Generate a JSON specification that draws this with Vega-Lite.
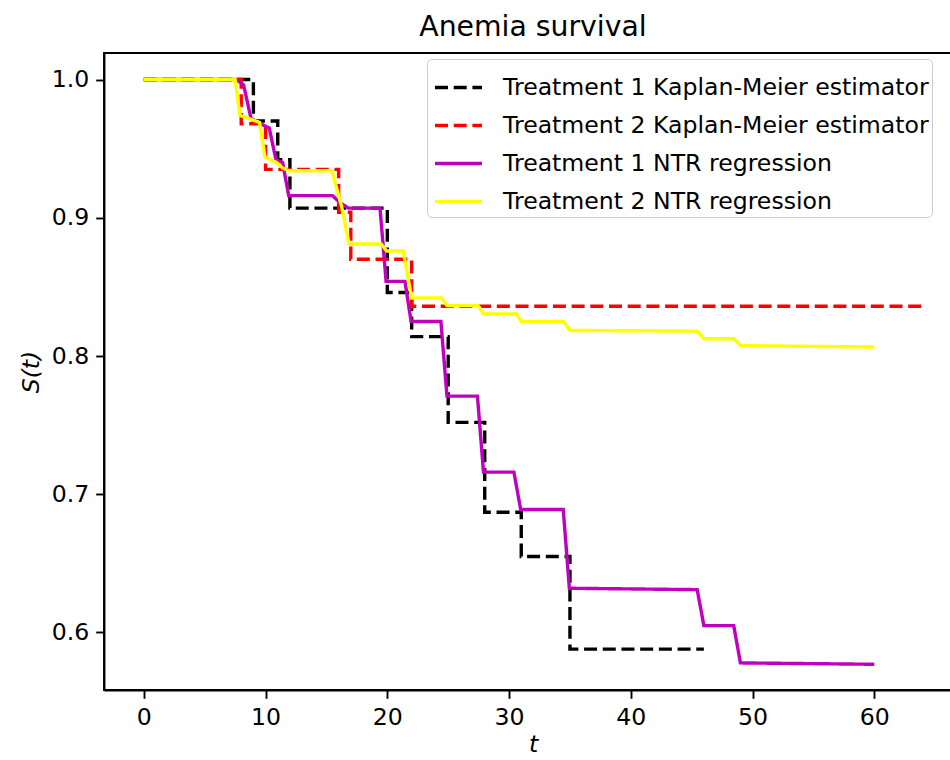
{
  "$schema": "https://vega.github.io/schema/vega-lite/v6.json",
  "autosize": {"type": "none"},
  "padding": {"left": 104, "top": 53, "right": 0, "bottom": 70},
  "width": 858,
  "height": 637,
  "background": "#ffffff",
  "title": {"text": "Anemia survival", "font": "DejaVu Sans", "fontSize": 28.3, "fontWeight": "normal", "color": "#000000", "anchor": "middle", "frame": "group", "baseline": "bottom", "offset": 8, "dy": 25},
  "data": {"values": [
    {"series": "Treatment 1 Kaplan-Meier estimator", "t": 0, "S": 1.0},
    {"series": "Treatment 1 Kaplan-Meier estimator", "t": 9, "S": 0.970},
    {"series": "Treatment 1 Kaplan-Meier estimator", "t": 11, "S": 0.942},
    {"series": "Treatment 1 Kaplan-Meier estimator", "t": 12, "S": 0.907},
    {"series": "Treatment 1 Kaplan-Meier estimator", "t": 20, "S": 0.846},
    {"series": "Treatment 1 Kaplan-Meier estimator", "t": 22, "S": 0.814},
    {"series": "Treatment 1 Kaplan-Meier estimator", "t": 25, "S": 0.752},
    {"series": "Treatment 1 Kaplan-Meier estimator", "t": 28, "S": 0.687},
    {"series": "Treatment 1 Kaplan-Meier estimator", "t": 31, "S": 0.655},
    {"series": "Treatment 1 Kaplan-Meier estimator", "t": 35, "S": 0.588},
    {"series": "Treatment 1 Kaplan-Meier estimator", "t": 46, "S": 0.588},
    {"series": "Treatment 2 Kaplan-Meier estimator", "t": 0, "S": 1.0},
    {"series": "Treatment 2 Kaplan-Meier estimator", "t": 8, "S": 0.968},
    {"series": "Treatment 2 Kaplan-Meier estimator", "t": 10, "S": 0.935},
    {"series": "Treatment 2 Kaplan-Meier estimator", "t": 16, "S": 0.904},
    {"series": "Treatment 2 Kaplan-Meier estimator", "t": 17, "S": 0.870},
    {"series": "Treatment 2 Kaplan-Meier estimator", "t": 22, "S": 0.836},
    {"series": "Treatment 2 Kaplan-Meier estimator", "t": 64, "S": 0.836},
    {"series": "Treatment 1 NTR regression", "t": 0, "S": 1.0},
    {"series": "Treatment 1 NTR regression", "t": 7.6, "S": 1.0},
    {"series": "Treatment 1 NTR regression", "t": 8.2, "S": 0.996},
    {"series": "Treatment 1 NTR regression", "t": 8.8, "S": 0.972},
    {"series": "Treatment 1 NTR regression", "t": 9.8, "S": 0.967},
    {"series": "Treatment 1 NTR regression", "t": 10.3, "S": 0.965},
    {"series": "Treatment 1 NTR regression", "t": 10.85, "S": 0.942},
    {"series": "Treatment 1 NTR regression", "t": 11.4, "S": 0.940},
    {"series": "Treatment 1 NTR regression", "t": 11.9, "S": 0.916},
    {"series": "Treatment 1 NTR regression", "t": 15.5, "S": 0.916},
    {"series": "Treatment 1 NTR regression", "t": 16.1, "S": 0.911},
    {"series": "Treatment 1 NTR regression", "t": 16.8, "S": 0.907},
    {"series": "Treatment 1 NTR regression", "t": 19.4, "S": 0.907},
    {"series": "Treatment 1 NTR regression", "t": 19.9, "S": 0.854},
    {"series": "Treatment 1 NTR regression", "t": 21.45, "S": 0.854},
    {"series": "Treatment 1 NTR regression", "t": 21.95, "S": 0.825},
    {"series": "Treatment 1 NTR regression", "t": 24.4, "S": 0.825},
    {"series": "Treatment 1 NTR regression", "t": 24.9, "S": 0.771},
    {"series": "Treatment 1 NTR regression", "t": 27.4, "S": 0.771},
    {"series": "Treatment 1 NTR regression", "t": 27.9, "S": 0.716},
    {"series": "Treatment 1 NTR regression", "t": 30.4, "S": 0.716},
    {"series": "Treatment 1 NTR regression", "t": 30.95, "S": 0.689},
    {"series": "Treatment 1 NTR regression", "t": 34.45, "S": 0.689},
    {"series": "Treatment 1 NTR regression", "t": 34.95, "S": 0.632},
    {"series": "Treatment 1 NTR regression", "t": 45.45, "S": 0.631},
    {"series": "Treatment 1 NTR regression", "t": 46.0, "S": 0.605},
    {"series": "Treatment 1 NTR regression", "t": 48.45, "S": 0.605},
    {"series": "Treatment 1 NTR regression", "t": 49.0, "S": 0.578},
    {"series": "Treatment 1 NTR regression", "t": 60, "S": 0.577},
    {"series": "Treatment 2 NTR regression", "t": 0, "S": 1.0},
    {"series": "Treatment 2 NTR regression", "t": 7.5, "S": 1.0},
    {"series": "Treatment 2 NTR regression", "t": 7.9, "S": 0.974},
    {"series": "Treatment 2 NTR regression", "t": 9.5, "S": 0.969},
    {"series": "Treatment 2 NTR regression", "t": 9.95, "S": 0.944},
    {"series": "Treatment 2 NTR regression", "t": 10.9, "S": 0.940},
    {"series": "Treatment 2 NTR regression", "t": 11.4, "S": 0.936},
    {"series": "Treatment 2 NTR regression", "t": 11.9, "S": 0.934},
    {"series": "Treatment 2 NTR regression", "t": 15.45, "S": 0.934},
    {"series": "Treatment 2 NTR regression", "t": 16.25, "S": 0.908},
    {"series": "Treatment 2 NTR regression", "t": 16.85, "S": 0.881},
    {"series": "Treatment 2 NTR regression", "t": 19.5, "S": 0.881},
    {"series": "Treatment 2 NTR regression", "t": 19.95, "S": 0.876},
    {"series": "Treatment 2 NTR regression", "t": 21.3, "S": 0.876},
    {"series": "Treatment 2 NTR regression", "t": 22.0, "S": 0.842},
    {"series": "Treatment 2 NTR regression", "t": 24.45, "S": 0.842},
    {"series": "Treatment 2 NTR regression", "t": 24.9, "S": 0.8365},
    {"series": "Treatment 2 NTR regression", "t": 27.45, "S": 0.8365},
    {"series": "Treatment 2 NTR regression", "t": 27.9, "S": 0.8305},
    {"series": "Treatment 2 NTR regression", "t": 30.6, "S": 0.8305},
    {"series": "Treatment 2 NTR regression", "t": 31.0, "S": 0.825},
    {"series": "Treatment 2 NTR regression", "t": 34.45, "S": 0.825},
    {"series": "Treatment 2 NTR regression", "t": 35.0, "S": 0.8185},
    {"series": "Treatment 2 NTR regression", "t": 45.45, "S": 0.818},
    {"series": "Treatment 2 NTR regression", "t": 46.0, "S": 0.8125},
    {"series": "Treatment 2 NTR regression", "t": 48.45, "S": 0.8125},
    {"series": "Treatment 2 NTR regression", "t": 49.0, "S": 0.8075},
    {"series": "Treatment 2 NTR regression", "t": 60, "S": 0.8065}
  ]},
  "encoding": {
    "x": {"field": "t", "type": "quantitative", "scale": {"domain": [-3.27, 67.2], "nice": false, "zero": false}, "axis": {"values": [0, 10, 20, 30, 40, 50, 60], "title": "t", "titleFontStyle": "italic", "titlePadding": 4}},
    "y": {"field": "S", "type": "quantitative", "scale": {"domain": [0.5584, 1.0192], "nice": false, "zero": false}, "axis": {"values": [0.6, 0.7, 0.8, 0.9, 1.0], "format": ".1f", "title": "S(t)", "titleFontStyle": "italic", "titlePadding": 8}},
    "color": {"field": "series", "type": "nominal", "scale": {"domain": ["Treatment 1 Kaplan-Meier estimator", "Treatment 2 Kaplan-Meier estimator", "Treatment 1 NTR regression", "Treatment 2 NTR regression"], "range": ["#000000", "#ff0000", "#bf00bf", "#ffff00"]}, "legend": {"title": null}},
    "strokeDash": {"field": "series", "type": "nominal", "scale": {"domain": ["Treatment 1 Kaplan-Meier estimator", "Treatment 2 Kaplan-Meier estimator", "Treatment 1 NTR regression", "Treatment 2 NTR regression"], "range": [[13, 5.7], [13, 5.7], [1, 0], [1, 0]]}, "legend": {"title": null}}
  },
  "layer": [
    {"transform": [{"filter": {"field": "series", "oneOf": ["Treatment 1 Kaplan-Meier estimator", "Treatment 2 Kaplan-Meier estimator"]}}],
     "mark": {"type": "line", "interpolate": "step-after", "strokeWidth": 3.4}},
    {"transform": [{"filter": {"field": "series", "oneOf": ["Treatment 1 NTR regression", "Treatment 2 NTR regression"]}}],
     "mark": {"type": "line", "interpolate": "linear", "strokeWidth": 3.4}}
  ],
  "config": {
    "view": {"stroke": "#000000", "strokeWidth": 1.9},
    "axis": {"grid": false, "domainColor": "#000000", "domainWidth": 1.9, "tickColor": "#000000", "tickWidth": 1.9, "tickSize": 8.3, "labelPadding": 7, "labelFont": "DejaVu Sans", "labelFontSize": 23.6, "labelColor": "#000000", "titleFont": "DejaVu Sans", "titleFontSize": 23.6, "titleFontWeight": "normal", "titleColor": "#000000", "labelFlush": false},
    "legend": {"orient": "none", "legendX": 323, "legendY": 6, "symbolType": "stroke", "symbolSize": 2209, "symbolStrokeWidth": 3.4, "symbolOffset": 3, "labelFont": "DejaVu Sans", "labelFontSize": 23.6, "labelColor": "#000000", "labelOffset": 19, "labelLimit": 1000, "padding": 3, "rowPadding": -2, "strokeColor": "#cccccc", "fillColor": "#ffffff", "cornerRadius": 5}
  }
}
